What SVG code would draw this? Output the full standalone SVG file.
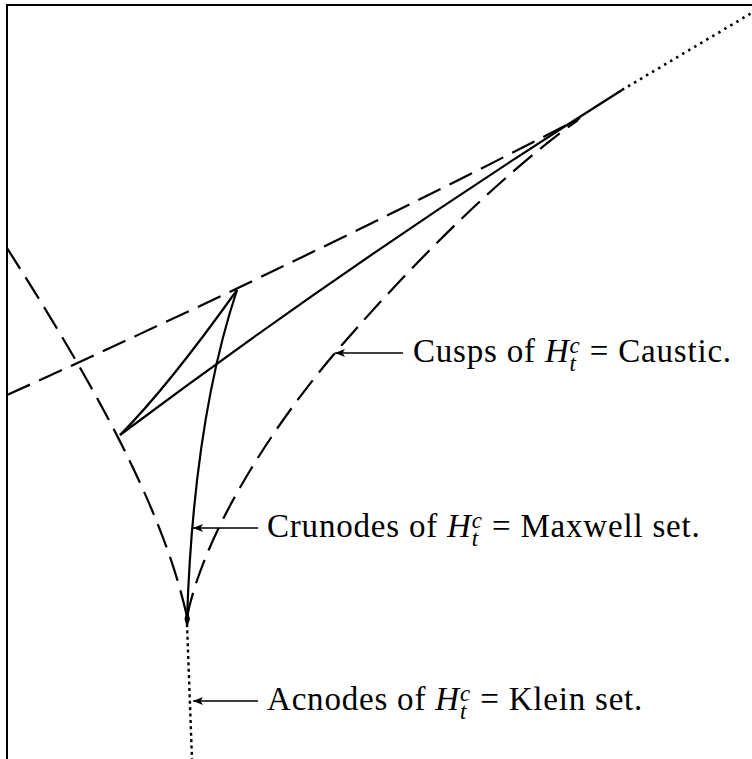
<svg xmlns="http://www.w3.org/2000/svg" width="752" height="759" viewBox="0 0 752 759">
<defs>
<style>
.frame{fill:none;stroke:#000;stroke-width:2}
.solid{fill:none;stroke:#000;stroke-width:2.2}
.dash{fill:none;stroke:#000;stroke-width:2.2;stroke-dasharray:25 10}
.dot{fill:none;stroke:#000;stroke-width:2.6;stroke-dasharray:2.5 4.5}
.dot2{fill:none;stroke:#000;stroke-width:2.4;stroke-dasharray:3 3.4}
.arrow{fill:none;stroke:#000;stroke-width:1.3;marker-end:url(#ah)}
.lbl{font-family:"Liberation Serif","Times New Roman",serif;font-size:33px;letter-spacing:0.8px;fill:#000}
.it{font-style:italic}
.ss{font-style:italic;font-size:23px}
</style>
<marker id="ah" viewBox="0 0 10 8" refX="10" refY="4" markerWidth="10" markerHeight="8" markerUnits="userSpaceOnUse" orient="auto"><path d="M0,0 L10,4 L0,8 L2.5,4 z" fill="#000"/></marker>
</defs>
<rect width="752" height="759" fill="#fff"/>
<path class="frame" d="M7,759 L7,5 L752,5"/>
<g id="caustic">
<path class="dash" d="M7,248 C77,358 161,497 187,617"/>
<path class="dash" d="M187,617 C203,537 267,433 335,353 C395,283 491,182 578,120"/>
<path class="dash" d="M7,395 Q306,260 580,118"/>
</g>
<g id="maxwell">
<path class="solid" d="M120,435 Q359,256 622,90"/>
<path class="solid" d="M120,435 Q167,388 237,290"/>
<path class="solid" d="M237,290 C207,380 191,497 187,620"/>
<path d="M187,608 L190,619 L187,628 L184.5,619 Z" fill="#000"/>
</g>
<g id="klein">
<path class="dot" d="M622,90 L760,8"/>
<path class="dot2" d="M187,624 L192,759"/>
</g>
<g id="connectors">
<path class="arrow" d="M403,353 L335,353"/>
<path class="arrow" d="M258,528 L193,528"/>
<path class="arrow" d="M258,701 L193,701"/>
</g>
<g id="label-cusps">
<text class="lbl" x="413" y="362">Cusps of <tspan class="it">H</tspan><tspan class="ss" dy="-9">c</tspan><tspan class="ss" dx="-11" dy="18">t</tspan><tspan dx="4" dy="-9"> = Caustic.</tspan></text>
</g>
<g id="label-crunodes">
<text class="lbl" x="267" y="537">Crunodes of <tspan class="it">H</tspan><tspan class="ss" dy="-9">c</tspan><tspan class="ss" dx="-11" dy="18">t</tspan><tspan dx="4" dy="-9"> = Maxwell set.</tspan></text>
</g>
<g id="label-acnodes">
<text class="lbl" x="267" y="710">Acnodes of <tspan class="it">H</tspan><tspan class="ss" dy="-9">c</tspan><tspan class="ss" dx="-11" dy="18">t</tspan><tspan dx="4" dy="-9"> = Klein set.</tspan></text>
</g>
</svg>
